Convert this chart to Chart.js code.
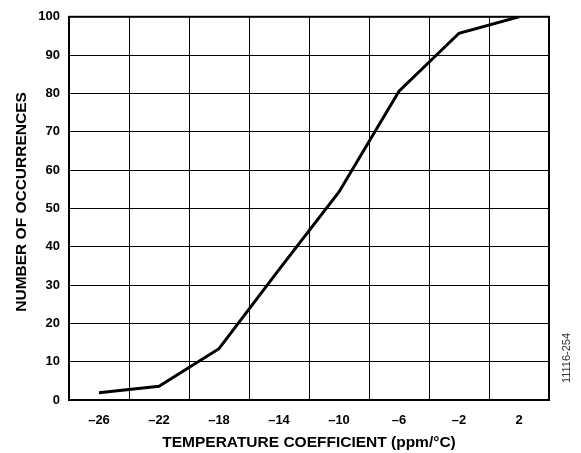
<!DOCTYPE html>
<html>
<head>
<meta charset="utf-8">
<script src="https://cdn.jsdelivr.net/npm/chart.js@4.4.1/dist/chart.umd.min.js"></script>
<style>
  html, body { margin: 0; padding: 0; background: #fff; }
  #wrap { width: 581px; height: 453px; }
</style>
</head>
<body>
<div id="wrap"><canvas id="tcChart" width="581" height="453"></canvas></div>
<script>
// temperature coefficient (ppm/°C) vs cumulative occurrences
const tempCoeff = [-26, -22, -18, -14, -10, -6, -2, 2];
const occurrences = [1.9, 3.6, 13.4, 34, 54.3, 80.6, 95.7, 100];
const xTickLabels = [-26, -22, -18, -14, -10, -6, -2, 2];
const figureId = '11116-254';

const tickFont = { family: '"Liberation Sans", Arial, sans-serif', size: 13, weight: 'bold' };
const titleFont = { family: '"Liberation Sans", Arial, sans-serif', size: 15.5, weight: 'bold' };

// box round the plot area plus the figure number at the right edge
const frame = {
  id: 'frame',
  afterDraw(chart) {
    const { ctx, chartArea: a } = chart;
    ctx.save();
    ctx.strokeStyle = '#000';
    ctx.lineWidth = 2;
    ctx.strokeRect(a.left, a.top, a.right - a.left, a.bottom - a.top);
    ctx.translate(567, 358);
    ctx.rotate(-Math.PI / 2);
    ctx.font = '11px "Liberation Sans", Arial, sans-serif';
    ctx.fillStyle = '#333';
    ctx.textAlign = 'center';
    ctx.textBaseline = 'middle';
    ctx.fillText(figureId, 0, 0);
    ctx.restore();
  }
};

const ctx = document.getElementById('tcChart').getContext('2d');
new Chart(ctx, {
  type: 'line',
  data: {
    datasets: [{
      data: tempCoeff.map((x, i) => ({ x: x, y: occurrences[i] })),
      borderColor: '#000',
      borderWidth: 3,
      pointRadius: 0,
      tension: 0,
      fill: false
    }]
  },
  options: {
    responsive: false,
    animation: false,
    layout: { padding: { left: 0, right: 32, top: 16, bottom: 0 } },
    plugins: { legend: { display: false }, tooltip: { enabled: false } },
    scales: {
      x: {
        type: 'linear',
        min: -28,
        max: 4,
        afterBuildTicks: (scale) => {
          const t = [];
          for (let v = -28; v <= 4; v += 2) t.push({ value: v });
          scale.ticks = t;
        },
        afterFit: (scale) => { scale.height = 53; },
        ticks: {
          autoSkip: false,
          maxRotation: 0,
          padding: 13,
          color: '#000',
          font: tickFont,
          callback: (v) => xTickLabels.includes(v) ? String(v).replace('-', '\u2013') : ''
        },
        grid: {
          drawTicks: false,
          lineWidth: 1,
          color: (c) => (c.tick && Math.abs(c.tick.value) % 4 === 0) ? '#000' : 'rgba(0,0,0,0)'
        },
        border: { display: false },
        title: {
          display: true,
          text: 'TEMPERATURE COEFFICIENT (ppm/°C)',
          color: '#000',
          font: titleFont,
          padding: { top: 0, bottom: 1 }
        }
      },
      y: {
        min: 0,
        max: 100,
        afterFit: (scale) => { scale.width = 69; },
        ticks: {
          stepSize: 10,
          padding: 9,
          color: '#000',
          font: tickFont
        },
        grid: { drawTicks: false, lineWidth: 1, color: '#000' },
        border: { display: false },
        title: {
          display: true,
          text: '   NUMBER OF OCCURRENCES',
          color: '#000',
          font: titleFont,
          padding: { top: 12, bottom: 0 }
        }
      }
    }
  },
  plugins: [frame]
});
</script>
</body>
</html>
